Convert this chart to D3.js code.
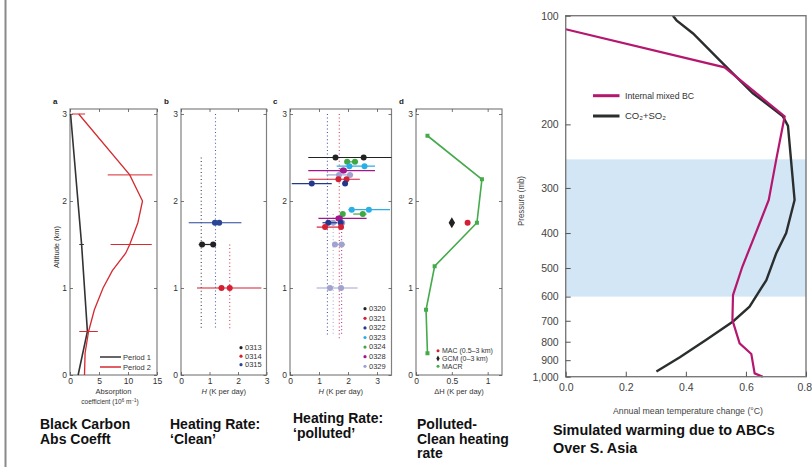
<!DOCTYPE html>
<html><head><meta charset="utf-8">
<script src="https://cdn.jsdelivr.net/npm/d3@7"></script>
<style>
body{margin:0;background:#fff;}
svg{display:block;}
.t{font-family:"Liberation Sans",Arial,sans-serif;}
.n{font-family:"Liberation Sans Narrow","Liberation Sans",Arial,sans-serif;}
</style></head><body>
<svg id="c" width="812" height="467"></svg>
<script>
// ---------- DATA ----------
const altTicks = [0, 1, 2, 3];
// panel a: black carbon absorption coefficient
const absTicks = [0, 5, 10, 15];
const p1Alt = [0, 0.5, 1.5, 3.0];
const p1Abs = [1.4, 3.0, 2.0, 0.1];
const p1ErrAlt = [1.5];
const p1ErrLo = [1.6];
const p1ErrHi = [2.4];
const p2Alt = [0, 0.25, 0.5, 0.75, 1.0, 1.2, 1.4, 1.5, 1.75, 2.0, 2.3, 3.0];
const p2Abs = [2.5, 2.6, 3.2, 4.2, 5.7, 7.3, 9.6, 10.3, 11.7, 12.5, 10.3, 1.5];
const p2ErrAlt = [3.0, 2.3, 1.5, 0.5];
const p2ErrLo = [0.3, 6.5, 7.0, 1.6];
const p2ErrHi = [2.6, 14.2, 14.1, 4.8];
const periodNames = ["Period 1", "Period 2"];

// panel b: heating rate clean
const hTicksB = [0, 1, 2, 3];
const cleanDates = ["0313", "0314", "0315"];
const cleanAlt = [1.5, 1.0, 1.75];
const cleanH1 = [0.74, 1.42, 1.19];
const cleanH2 = [1.13, 1.71, 1.34];
const cleanErrLo = [0.62, 0.56, 0.27];
const cleanErrHi = [1.22, 2.82, 2.12];
const cleanDotH = [0.71, 1.71, 1.21];
const cleanDotTop = [2.5, 1.5, 3.0];
const cleanDotBot = [0.52, 0.52, 0.52];

// panel c: heating rate polluted
const hTicksC = [0, 1, 2, 3];
const pollDates = ["0320", "0321", "0322", "0323", "0324", "0328", "0329"];
const rowDate = ["0320", "0324", "0323", "0328", "0329", "0321", "0322", "0323", "0324", "0328", "0329", "0322", "0321", "0329", "0329"];
const rowAlt  = [2.5, 2.45, 2.4, 2.35, 2.3, 2.25, 2.2, 1.9, 1.85, 1.8, 1.75, 1.75, 1.7, 1.5, 1.0];
const rowH1   = [1.57, 1.97, 2.05, 1.82, 1.69, 1.67, 0.75, 2.13, 1.82, 1.67, 1.49, 1.32, 1.21, 1.55, 1.38];
const rowH2   = [2.54, 2.24, 2.57, 1.86, 2.07, 1.95, 1.90, 2.72, 2.51, 1.72, 1.80, 1.75, 1.76, 1.78, 1.76];
const rowLo   = [0.63, 1.90, 1.61, 0.63, 1.26, 0.63, 0.06, 2.01, 2.18, 0.98, 1.40, 1.12, 0.92, 1.45, 0.92];
const rowHi   = [3.50, 2.35, 2.93, 2.93, 2.18, 2.41, 1.44, 3.45, 2.64, 2.64, 1.90, 1.62, 1.80, 1.90, 2.33];
const pollDotH   = [1.29, 1.70, 1.49, 1.78];
const pollDotTop = [3.0, 3.0, 1.85, 1.85];
const pollDotBot = [0.45, 0.42, 0.45, 0.45];
const pollDotCol = ["0322", "0321", "0329", "0328"];

// panel d: polluted - clean
const dTicks = [0, 0.5, 1];
const macrAlt = [2.75, 2.25, 1.75, 1.25, 0.75, 0.25];
const macrDH  = [0.16, 0.92, 0.85, 0.26, 0.14, 0.16];
const macAlt = 1.75, macDH = 0.72;
const gcmAlt = 1.75, gcmDH = 0.50;
const dLegend = ["MAC (0.5–3 km)", "GCM (0–3 km)", "MACR"];

// panel e: simulated warming
const tempTicks = [0, 0.2, 0.4, 0.6, 0.8];
const presTicks = [100, 200, 300, 400, 500, 600, 700, 800, 900, 1000];
const bcTemp = [0.0, 0.529, 0.729, 0.701, 0.676, 0.637, 0.588, 0.557, 0.555, 0.579, 0.618, 0.629, 0.656];
const bcPres = [109, 139, 190, 250, 324, 392, 496, 594, 697, 808, 865, 979, 1000];
const co2Temp = [0.357, 0.369, 0.424, 0.513, 0.623, 0.723, 0.740, 0.762, 0.734, 0.701, 0.668, 0.612, 0.557, 0.468, 0.380, 0.302];
const co2Pres = [100, 103, 112, 133, 164, 190, 202, 324, 400, 455, 540, 640, 703, 790, 883, 967];
const bandPres = [250, 600];
const eLegend = ["Internal mixed BC", "CO₂+SO₂"];

// ---------- DRAW ----------
const svg = d3.select("#c");
const dateColor = d3.scaleOrdinal()
  .domain(["0313","0314","0315","0320","0321","0322","0323","0324","0328","0329"])
  .range(["#222222","#d41f35","#2a4597","#222222","#d41f35","#24398c","#2aaee6","#3da844","#a3168d","#a0a3cf"]);

svg.append("line").attr("x1",5.5).attr("x2",5.5).attr("y1",0).attr("y2",467)
  .attr("stroke","#8a8a8a").attr("stroke-width",2);

const TOP = 109, BOT = 375;
const yAlt = d3.scaleLinear().domain([0,3]).range([375,114]);
const boxCol = "#808080";

function frame(x, label) {
  const g = svg.append("g");
  const [x0,x1] = x.range();
  g.append("rect").attr("x",x0).attr("y",TOP).attr("width",x1-x0).attr("height",BOT-TOP)
    .attr("fill","none").attr("stroke",boxCol).attr("stroke-width",1.2);
  const ax = d3.axisBottom(x).tickValues(x._ticks).tickSize(-3).tickPadding(3)
    .tickFormat(d3.format("~g"));
  const xa = g.append("g").attr("transform",`translate(0,${BOT})`).call(ax);
  const xt = g.append("g").attr("transform",`translate(0,${TOP})`).call(d3.axisTop(x).tickValues(x._ticks).tickSize(-3).tickFormat(""));
  const ya = g.append("g").attr("transform",`translate(${x0},0)`).call(d3.axisLeft(yAlt).tickValues(altTicks).tickSize(-3).tickPadding(3).tickFormat(d3.format("d")));
  const yr = g.append("g").attr("transform",`translate(${x1},0)`).call(d3.axisRight(yAlt).tickValues(altTicks).tickSize(-3).tickFormat(""));
  [xa,xt,ya,yr].forEach(a=>{
    a.select(".domain").remove();
    a.selectAll(".tick line").attr("stroke","#555").attr("stroke-width",0.8);
    a.selectAll("text").attr("class","t").attr("font-size",8.5).attr("fill","#333");
  });
  g.append("text").attr("class","t").attr("x",x0-17).attr("y",104).attr("font-size",8)
    .attr("font-weight","bold").attr("fill","#222").text(label);
  const xl = g.append("text").attr("class","t").attr("x",(x0+x1)/2).attr("y",394)
    .attr("text-anchor","middle").attr("font-size",7.5).attr("fill","#333");
  return {g, xl};
}

// ---- panel a ----
const xA = d3.scaleLinear().domain([0,15]).range([70,157]); xA._ticks = absTicks;
const fa = frame(xA, "a");
fa.xl.text("Absorption");
const c2 = fa.g.append("text").attr("class","t").attr("x",110).attr("y",404).attr("text-anchor","middle")
  .attr("font-size",6.5).attr("fill","#333");
c2.append("tspan").text("coefficient (10");
c2.append("tspan").attr("dy",-2.5).attr("font-size",4.5).text("6");
c2.append("tspan").attr("dy",2.5).text(" m");
c2.append("tspan").attr("dy",-2.5).attr("font-size",4.5).text("−1");
c2.append("tspan").attr("dy",2.5).text(")");
fa.g.append("text").attr("class","t").attr("transform","translate(59,247) rotate(-90)")
  .attr("text-anchor","middle").attr("font-size",7.5).attr("fill","#333").text("Altitude (km)");
const lineA = d3.line();
fa.g.append("path").attr("d",lineA(p1Abs.map((v,i)=>[xA(v),yAlt(p1Alt[i])])))
  .attr("fill","none").attr("stroke","#333").attr("stroke-width",1.6);
fa.g.append("path").attr("d",lineA(p2Abs.map((v,i)=>[xA(v),yAlt(p2Alt[i])])))
  .attr("fill","none").attr("stroke","#d42a30").attr("stroke-width",1.3);
p2ErrAlt.forEach((a,i)=>fa.g.append("line").attr("x1",xA(p2ErrLo[i])).attr("x2",xA(p2ErrHi[i]))
  .attr("y1",yAlt(a)).attr("y2",yAlt(a)).attr("stroke","#d42a30").attr("stroke-width",1));
p1ErrAlt.forEach((a,i)=>fa.g.append("line").attr("x1",xA(p1ErrLo[i])).attr("x2",xA(p1ErrHi[i]))
  .attr("y1",yAlt(a)).attr("y2",yAlt(a)).attr("stroke","#333").attr("stroke-width",1));
["#333","#d42a30"].forEach((c,i)=>{
  const y = 357 + i*10;
  fa.g.append("line").attr("x1",100).attr("x2",121).attr("y1",y).attr("y2",y).attr("stroke",c).attr("stroke-width",1.5);
  fa.g.append("text").attr("class","t").attr("x",123).attr("y",y+2.5).attr("font-size",7.5).attr("fill","#333").text(periodNames[i]);
});

function dotted(g, x, h, top, bot, col) {
  g.append("line").attr("x1",x(h)).attr("x2",x(h)).attr("y1",yAlt(top)).attr("y2",yAlt(bot))
    .attr("stroke",col).attr("stroke-width",1.1).attr("stroke-dasharray","1,2.6").attr("opacity",0.85);
}
function hLabel(xl, prefix) {
  if (prefix) xl.append("tspan").text(prefix);
  xl.append("tspan").attr("font-style","italic").text("H");
  xl.append("tspan").text(" (K per day)");
}
function legendDots(g, names, x, y0, dy) {
  names.forEach((n,i)=>{
    g.append("circle").attr("cx",x).attr("cy",y0+i*dy-2.3).attr("r",1.6).attr("fill",dateColor(n));
    g.append("text").attr("class","t").attr("x",x+4).attr("y",y0+i*dy).attr("font-size",7.5).attr("fill","#333").text(n);
  });
}

// ---- panel b ----
const xB = d3.scaleLinear().domain([0,3]).range([181,266.5]); xB._ticks = hTicksB;
const fb = frame(xB, "b");
hLabel(fb.xl);
cleanDates.forEach((d,i)=>dotted(fb.g, xB, cleanDotH[i], cleanDotTop[i], cleanDotBot[i], dateColor(d)));
cleanDates.forEach((d,i)=>{
  const y = yAlt(cleanAlt[i]), c = dateColor(d);
  fb.g.append("line").attr("x1",xB(cleanErrLo[i])).attr("x2",xB(cleanErrHi[i])).attr("y1",y).attr("y2",y)
    .attr("stroke",c).attr("stroke-width",1.2);
  [cleanH1[i],cleanH2[i]].forEach(h=>fb.g.append("circle").attr("cx",xB(h)).attr("cy",y).attr("r",3).attr("fill",c));
});
legendDots(fb.g, cleanDates, 241, 350, 8.5);

// ---- panel c ----
const xC = d3.scaleLinear().domain([0,3.5]).range([290,391.5]); xC._ticks = hTicksC;
const fc = frame(xC, "c");
hLabel(fc.xl);
pollDotH.forEach((h,i)=>dotted(fc.g, xC, h, pollDotTop[i], pollDotBot[i], dateColor(pollDotCol[i])));
rowDate.forEach((d,i)=>{
  const y = yAlt(rowAlt[i]), c = dateColor(d);
  fc.g.append("line").attr("x1",xC(rowLo[i])).attr("x2",xC(rowHi[i])).attr("y1",y).attr("y2",y)
    .attr("stroke",c).attr("stroke-width",1.2);
  [rowH1[i],rowH2[i]].forEach(h=>fc.g.append("circle").attr("cx",xC(h)).attr("cy",y).attr("r",3).attr("fill",c));
});
legendDots(fc.g, pollDates, 365, 311, 9.6);

// ---- panel d ----
const xD = d3.scaleLinear().domain([0,1.2]).range([416,502]); xD._ticks = dTicks;
const fd = frame(xD, "d");
fd.xl.text("ΔH (K per day)");
const green = "#45aa4a";
fd.g.append("path").attr("d",d3.line()(macrDH.map((v,i)=>[xD(v),yAlt(macrAlt[i])])))
  .attr("fill","none").attr("stroke",green).attr("stroke-width",1.6);
macrDH.forEach((v,i)=>fd.g.append("rect").attr("x",xD(v)-2).attr("y",yAlt(macrAlt[i])-2).attr("width",4).attr("height",4).attr("fill",green));
fd.g.append("circle").attr("cx",xD(macDH)).attr("cy",yAlt(macAlt)).attr("r",3).attr("fill","#d41f35");
fd.g.append("path").attr("d",d3.symbol(d3.symbolDiamond,36)()).attr("transform",`translate(${xD(gcmDH)},${yAlt(gcmAlt)})`).attr("fill","#222");
const dlc = ["#d41f35","#222",green];
dLegend.forEach((n,i)=>{
  const y = 353 + i*7.8;
  if (i===1) fd.g.append("path").attr("d",d3.symbol(d3.symbolDiamond,10)()).attr("transform",`translate(438,${y-2.3})`).attr("fill",dlc[i]);
  else fd.g.append("circle").attr("cx",438).attr("cy",y-2.3).attr("r",1.5).attr("fill",dlc[i]);
  fd.g.append("text").attr("class","t").attr("x",442).attr("y",y).attr("font-size",7).attr("fill","#333").text(n);
});

// ---- panel e ----
const xE = d3.scaleLinear().domain([0,0.8]).range([565.7,806]);
const yE = d3.scaleLog().domain([100,1000]).range([15.7,376.7]);
const ge = svg.append("g");
ge.append("rect").attr("x",xE(0)).attr("y",yE(bandPres[0])).attr("width",xE(0.8)-xE(0))
  .attr("height",yE(bandPres[1])-yE(bandPres[0])).attr("fill","#d2e6f5");
const magenta = "#b5176e";
ge.append("path").attr("d",d3.line()(co2Temp.map((v,i)=>[xE(v),yE(co2Pres[i])])))
  .attr("fill","none").attr("stroke","#2b2e2e").attr("stroke-width",2.4);
ge.append("path").attr("d",d3.line()(bcTemp.map((v,i)=>[xE(v),yE(bcPres[i])])))
  .attr("fill","none").attr("stroke",magenta).attr("stroke-width",2.2);
ge.append("rect").attr("x",xE(0)).attr("y",yE(100)).attr("width",xE(0.8)-xE(0)).attr("height",yE(1000)-yE(100))
  .attr("fill","none").attr("stroke","#7a7a7a").attr("stroke-width",1.4);
const exa = ge.append("g").attr("transform",`translate(0,${yE(1000)})`)
  .call(d3.axisBottom(xE).tickValues(tempTicks).tickSize(-5).tickPadding(5).tickFormat(d3.format(".1f")));
const eya = ge.append("g").attr("transform",`translate(${xE(0)},0)`)
  .call(d3.axisLeft(yE).tickValues(presTicks).tickSize(-5).tickPadding(7).tickFormat(d3.format(",")));
[exa,eya].forEach(a=>{
  a.select(".domain").remove();
  a.selectAll(".tick line").attr("stroke","#555").attr("stroke-width",1);
  a.selectAll("text").attr("class","n").attr("font-size",10.5).attr("fill","#444");
});
exa.selectAll(".tick text").attr("dy","0.9em");
exa.selectAll(".tick text").filter(d=>d===0.8).attr("text-anchor","end").attr("x",5.5);
ge.append("text").attr("class","n").attr("x",688).attr("y",414).attr("text-anchor","middle")
  .attr("font-size",9.5).attr("fill","#444").attr("textLength",150).attr("lengthAdjust","spacingAndGlyphs")
  .text("Annual mean temperature change (°C)");
ge.append("text").attr("class","n").attr("transform","translate(524,201) rotate(-90)")
  .attr("text-anchor","middle").attr("font-size",9).attr("fill","#444").attr("textLength",50).attr("lengthAdjust","spacingAndGlyphs")
  .text("Pressure (mb)");
[magenta,"#2b2e2e"].forEach((c,i)=>{
  const y = 95.7 + i*20.3;
  ge.append("line").attr("x1",593).attr("x2",619.5).attr("y1",y).attr("y2",y).attr("stroke",c).attr("stroke-width",3);
  const t = ge.append("text").attr("class","n").attr("x",625).attr("y",y+3.3).attr("font-size",9.5).attr("fill","#333").text(eLegend[i]);
  if (i===0) t.attr("textLength",69).attr("lengthAdjust","spacingAndGlyphs");
});

// ---- captions ----
function caption(x, y0, lines, dy, fs) {
  lines.forEach((l,i)=>svg.append("text").attr("class","t").attr("x",x).attr("y",y0+i*dy)
    .attr("font-size",fs||14).attr("font-weight","bold").attr("fill","#111").text(l));
}
caption(40, 429, ["Black Carbon","Abs Coefft"], 15);
caption(170, 429, ["Heating Rate:","‘Clean’"], 15);
caption(293, 423, ["Heating Rate:","‘polluted’"], 15);
caption(417, 429, ["Polluted-","Clean heating","rate"], 14.5);
caption(553, 435, ["Simulated warming due to ABCs","Over  S. Asia"], 17.5, 14.4);
</script>
</body></html>
